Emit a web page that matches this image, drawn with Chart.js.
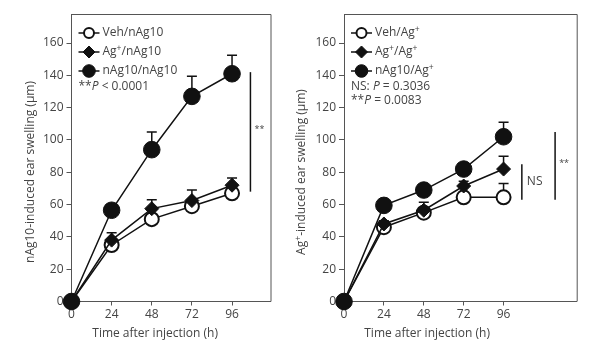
<!DOCTYPE html>
<html>
<head>
<meta charset="utf-8">
<script src="https://cdn.jsdelivr.net/npm/chart.js@4.4.1/dist/chart.umd.min.js"></script>
<style>
html, body { margin: 0; padding: 0; background: #fff; }
#wrap { position: relative; width: 600px; height: 353px; }
canvas { position: absolute; top: 0; }
#left { left: 0; }
#right { left: 290px; }
</style>
</head>
<body>
<div id="wrap">
  <canvas id="left" width="300" height="353"></canvas>
  <canvas id="right" width="310" height="353"></canvas>
</div>
<script>
// Data
const hours = [0, 24, 48, 72, 96];
const yTicks = [0, 20, 40, 60, 80, 100, 120, 140, 160];

// Left panel: nAg10 challenge
const leftNames = ['Veh/nAg10', 'Ag⁺/nAg10', 'nAg10/nAg10'];
const leftVeh = [0, 35, 51, 59, 67];
const leftVehErr = [0, 3, 3, 3, 3];
const leftAg = [0, 38, 57.5, 62.5, 72];
const leftAgErr = [0, 4.5, 5.5, 6.5, 4.5];
const leftNag = [0, 56.5, 94, 127, 141];
const leftNagErr = [0, 3.5, 11, 12.5, 11.5];
const leftNotes = ['**_P_ < 0.0001'];
// significance bars: [x, low, high, label]
const leftSig = [[107, 68, 142, '**']];

// Right panel: Ag+ challenge
const rightNames = ['Veh/Ag⁺', 'Ag⁺/Ag⁺', 'nAg10/Ag⁺'];
const rightVeh = [0, 46, 55, 64.5, 64.5];
const rightVehErr = [0, 2, 2, 2, 8.5];
const rightAg = [0, 48, 56.5, 71.5, 82];
const rightAgErr = [0, 2, 5, 3, 8];
const rightNag = [0, 59.5, 69, 82, 102];
const rightNagErr = [0, 2, 3, 3, 9];
const rightNotes = ['NS: _P_ = 0.3036', '**_P_ = 0.0083'];
const rightSig = [[107, 63, 85, 'NS'], [127, 63, 105, '**']];

const ink = '#111';
const axisColor = '#555';
const textColor = '#444';
const fontFamily = '"Open Sans", "DejaVu Sans", sans-serif';

const markerStyles = [
    { pointStyle: 'circle', pointRadius: 7, pointBackgroundColor: '#fff', pointBorderWidth: 2, legendRadius: 5 },
    { pointStyle: 'rectRot', pointRadius: 7, pointBackgroundColor: ink, pointBorderWidth: 1, legendRadius: 6 },
    { pointStyle: 'circle', pointRadius: 8.3, pointBackgroundColor: ink, pointBorderWidth: 1, legendRadius: 6.3 }
];

// text with _italic_ parts and superscript plus
function richParts(text) {
    const parts = [];
    let italic = false;
    let buf = '';
    for (const ch of text) {
        if (ch === '_') {
            if (buf) parts.push({ t: buf, i: italic });
            buf = '';
            italic = !italic;
        } else if (ch === '⁺') {
            if (buf) parts.push({ t: buf, i: italic });
            buf = '';
            parts.push({ t: '+', i: italic, sup: true });
        } else {
            buf += ch;
        }
    }
    if (buf) parts.push({ t: buf, i: italic });
    return parts;
}

function fontFor(p, size) {
    return (p.i ? 'italic ' : '') + (p.sup ? size * 0.72 : size) + 'px ' + fontFamily;
}

function drawRich(ctx, text, x, y, size, align) {
    const parts = richParts(text);
    let w = 0;
    parts.forEach(p => {
        ctx.font = fontFor(p, size);
        p.w = ctx.measureText(p.t).width;
        w += p.w;
    });
    let cx = align === 'center' ? x - w / 2 : x;
    ctx.textAlign = 'left';
    ctx.textBaseline = 'middle';
    ctx.fillStyle = textColor;
    parts.forEach(p => {
        ctx.font = fontFor(p, size);
        ctx.fillText(p.t, cx, p.sup ? y - size * 0.33 : y);
        cx += p.w;
    });
}

function drawMarker(ctx, style, x, y, r) {
    ctx.beginPath();
    if (style.pointStyle === 'rectRot') {
        ctx.moveTo(x - r, y);
        ctx.lineTo(x, y - r);
        ctx.lineTo(x + r, y);
        ctx.lineTo(x, y + r);
        ctx.closePath();
    } else {
        ctx.arc(x, y, r, 0, Math.PI * 2);
    }
    ctx.fillStyle = style.pointBackgroundColor;
    ctx.fill();
    ctx.lineWidth = style.pointBorderWidth;
    ctx.strokeStyle = ink;
    ctx.stroke();
}

const extras = {
    id: 'extras',
    beforeDatasetsDraw(chart, args, opts) {
        // upward error bars with caps
        const ctx = chart.ctx;
        const xs = chart.scales.x, ys = chart.scales.y;
        ctx.save();
        ctx.strokeStyle = ink;
        ctx.lineWidth = 1.5;
        opts.series.forEach((vals, i) => {
            vals.forEach((v, j) => {
                const e = opts.errors[i][j];
                if (!e) return;
                const x = xs.getPixelForValue(hours[j]);
                const y0 = ys.getPixelForValue(v);
                const y1 = ys.getPixelForValue(v + e);
                ctx.beginPath();
                ctx.moveTo(x, y0);
                ctx.lineTo(x, y1);
                ctx.moveTo(x - 5, y1);
                ctx.lineTo(x + 5, y1);
                ctx.stroke();
            });
        });
        ctx.restore();
    },
    afterDraw(chart, args, opts) {
        const ctx = chart.ctx;
        const a = chart.chartArea;
        const xs = chart.scales.x, ys = chart.scales.y;
        ctx.save();

        // frame top and right
        ctx.strokeStyle = axisColor;
        ctx.lineWidth = 1;
        ctx.beginPath();
        ctx.moveTo(a.left, a.top + 0.5);
        ctx.lineTo(a.right + 0.5, a.top + 0.5);
        ctx.lineTo(a.right + 0.5, a.bottom);
        ctx.stroke();

        // legend inside the plot
        const lx = a.left + 7;
        opts.names.forEach((name, i) => {
            const y = a.top + 19 + i * 19;
            ctx.strokeStyle = ink;
            ctx.lineWidth = 1.5;
            ctx.beginPath();
            ctx.moveTo(lx, y);
            ctx.lineTo(lx + 21, y);
            ctx.stroke();
            drawMarker(ctx, markerStyles[i], lx + 10.5, y, markerStyles[i].legendRadius);
            drawRich(ctx, name, lx + 24, y, 12, 'left');
        });
        opts.notes.forEach((note, i) => {
            drawRich(ctx, note, lx, a.top + 73 + i * 14, 12, 'left');
        });

        // significance bars
        opts.sig.forEach(([sx, lo, hi, label]) => {
            const x = xs.getPixelForValue(sx);
            const y0 = ys.getPixelForValue(lo);
            const y1 = ys.getPixelForValue(hi);
            ctx.strokeStyle = ink;
            ctx.lineWidth = 1.5;
            ctx.beginPath();
            ctx.moveTo(x, y0);
            ctx.lineTo(x, y1);
            ctx.stroke();
            if (label === 'NS') {
                drawRich(ctx, label, x + 5, (y0 + y1) / 2, 12, 'left');
            } else {
                drawRich(ctx, label, x + 9, (y0 + y1) / 2 - 2, 9, 'center');
            }
        });

        // axis titles
        drawRich(ctx, 'Time after injection (h)', xs.getPixelForValue(50), 334, 12, 'center');
        ctx.translate(opts.yTitleX, 172);
        ctx.rotate(-Math.PI / 2);
        drawRich(ctx, opts.yTitle, 0, 0, 12, 'center');
        ctx.restore();
    }
};

function makeChart(id, names, series, errors, notes, sig, yTitle, yTitleX, xMax, yWidth, padRight) {
    const datasets = series.map((vals, i) => Object.assign({
        label: names[i],
        data: hours.map((h, j) => ({ x: h, y: vals[j] })),
        borderColor: ink,
        borderWidth: 1.5,
        pointBorderColor: ink,
        tension: 0,
        clip: false,
        order: 3 - i
    }, markerStyles[i]));

    return new Chart(document.getElementById(id), {
        type: 'line',
        data: { datasets: datasets },
        plugins: [extras],
        options: {
            responsive: false,
            animation: false,
            layout: { padding: { top: 14, right: padRight, bottom: 0, left: 0 } },
            plugins: {
                legend: { display: false },
                tooltip: { enabled: false },
                extras: { names, series, errors, notes, sig, yTitle, yTitleX }
            },
            scales: {
                x: {
                    type: 'linear',
                    min: 0,
                    max: xMax,
                    afterBuildTicks: s => { s.ticks = hours.map(v => ({ value: v })); },
                    afterFit: s => { s.height = 51.5; },
                    border: { color: axisColor, width: 1 },
                    grid: { drawOnChartArea: false, color: axisColor, tickLength: 4 },
                    ticks: { color: textColor, padding: 2, font: { family: fontFamily, size: 12 } }
                },
                y: {
                    min: 0,
                    max: 178,
                    afterBuildTicks: s => { s.ticks = yTicks.map(v => ({ value: v })); },
                    afterFit: s => { s.width = yWidth; },
                    border: { color: axisColor, width: 1 },
                    grid: { drawOnChartArea: false, color: axisColor, tickLength: 5 },
                    ticks: { color: textColor, padding: 3, font: { family: fontFamily, size: 12 } }
                }
            }
        }
    });
}

makeChart('left', leftNames,
    [leftVeh, leftAg, leftNag], [leftVehErr, leftAgErr, leftNagErr],
    leftNotes, leftSig, 'nAg10-induced ear swelling (μm)', 31, 119, 71.5, 29.5);

makeChart('right', rightNames,
    [rightVeh, rightAg, rightNag], [rightVehErr, rightAgErr, rightNagErr],
    rightNotes, rightSig, 'Ag⁺-induced ear swelling (μm)', 12, 140, 54, 23.3);
</script>
</body>
</html>
